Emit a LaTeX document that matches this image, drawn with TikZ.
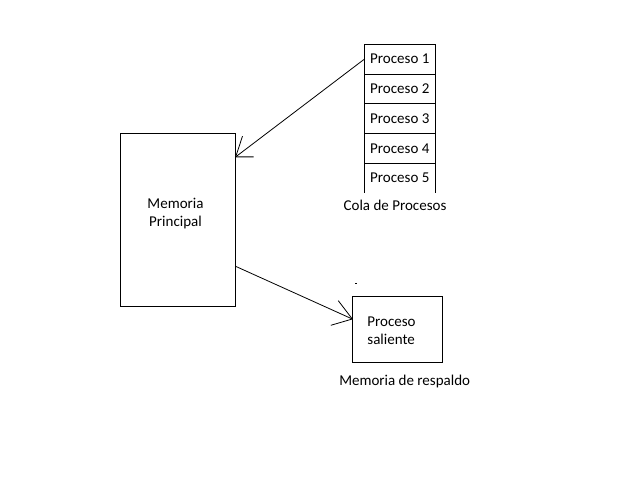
\documentclass[tikz,border=0pt]{standalone}
\usepackage{fontspec}
\setmainfont{Carlito}
\usetikzlibrary{positioning,calc}
\tikzset{
  box/.style={draw, line width=1pt, outer sep=0pt, inner sep=0pt},
  cell/.style={draw, line width=1pt, outer sep=0pt, inner sep=0pt, minimum width=71pt, minimum height=29.7pt},
  txt/.style={align=center, inner sep=0pt},
  wire/.style={line width=0.8pt},
  barb/.style={line width=0.8pt}
}

\begin{document}
\begin{tikzpicture}[x=1pt, y=-1pt, font=\fontsize{15}{18}\selectfont]
    \useasboundingbox (0,0) rectangle (640,480);
    % main memory
    \node[box, minimum width=115pt, minimum height=172.7pt] (mem) at (178.2,219.7) {};
    \node[txt] (memtxt) at (175.5,214) {Memoria\\Principal};
    % process queue
    \node[cell] (p1) at (399.8,59.2) {Proceso 1};
    \node[cell, below=0pt of p1] (p2) {Proceso 2};
    \node[cell, below=0pt of p2] (p3) {Proceso 3};
    \node[cell, below=0pt of p3] (p4) {Proceso 4};
    \node[cell, draw=none, below=0pt of p4] (p5) {Proceso 5};
    \draw[line width=1pt] (p4.south west) -- (p5.south west) (p4.south east) -- (p5.south east);
    \node[txt] (cola) at (395,205) {Cola de Procesos};
    % backing store
    \node[box, minimum width=90pt, minimum height=66pt] (sal) at (397.3,329) {};
    \node[txt, align=left] (saltxt) at (391.5,330.5) {Proceso\\saliente};
    \node[txt] (resp) at (404.7,381) {Memoria de respaldo};
    \fill (355,282.5) rectangle (357,283.5);

    \coordinate (in1) at ($(mem.north east)+(0,23.5)$);
    \coordinate (out1) at ($(mem.north east)+(0,133)$);
    \coordinate (in2) at ($(sal.north west)+(0,23)$);
    \draw[wire] (p1.west) -- (in1);
    \draw[barb] (in1) -- ++(6.8,-20.7) (in1) -- ++(17.8,0);
    \draw[wire] (out1) -- (in2);
    \draw[barb] (in2) -- ++(-14,-18.3) (in2) -- ++(-21.5,6.3);
\end{tikzpicture}
\end{document}
